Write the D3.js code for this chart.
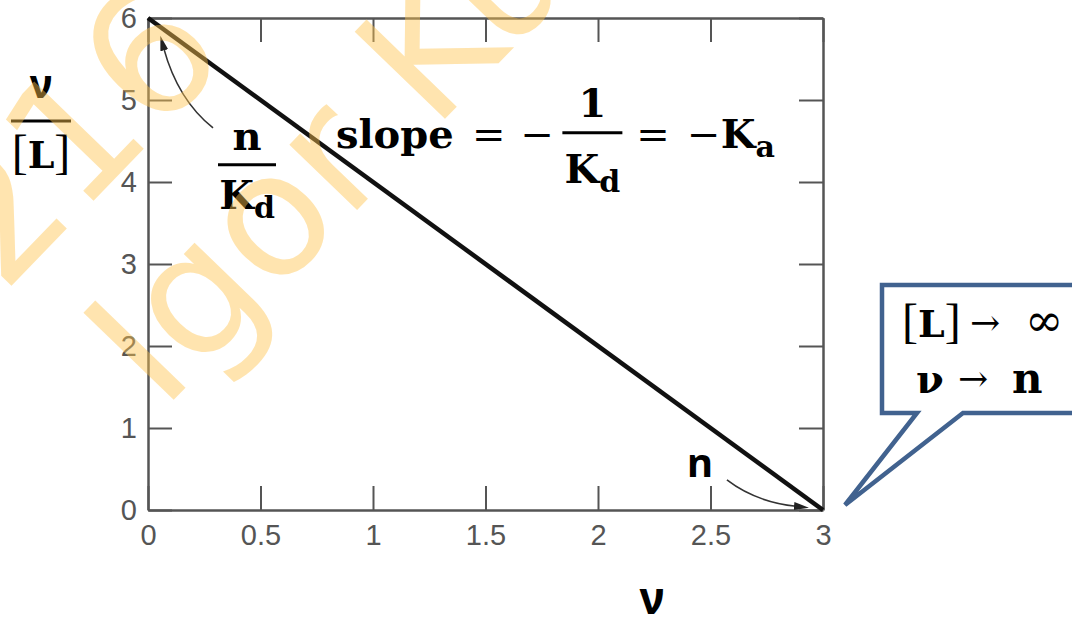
<!DOCTYPE html>
<html>
<head>
<meta charset="utf-8">
<script src="https://cdn.jsdelivr.net/npm/d3@7"></script>
<style>
  html, body { margin: 0; padding: 0; background: #fff; }
  svg { display: block; }
</style>
</head>
<body>
<svg id="chart" width="1072" height="629"></svg>
<script>
// Scatchard plot: ν/[L] against ν for n identical, independent sites
const xTickValues = [0, 0.5, 1, 1.5, 2, 2.5, 3];
const yTickValues = [0, 1, 2, 3, 4, 5, 6];
const nuValues = [0, 3];        // ν
const ratioValues = [6, 0];     // ν/[L]
const nSites = 3;               // x-intercept, n
const interceptRatio = 6;       // y-intercept, n/Kd

const svg = d3.select("#chart");
const x = d3.scaleLinear().domain([0, 3]).range([148, 823]);
const y = d3.scaleLinear().domain([0, 6]).range([510, 18]);

const axisColor = "#555";
const tickFont = "'Liberation Sans', Arial, sans-serif";
const serif = "'DejaVu Serif', serif";
const thinSerif = "'Liberation Serif', 'Times New Roman', serif";
const sans = "'Noto Sans', 'Open Sans', sans-serif";

function styleAxis(g) {
  g.selectAll(".domain").attr("stroke", axisColor).attr("stroke-width", 2.5);
  g.selectAll(".tick line").attr("stroke", axisColor).attr("stroke-width", 2);
  g.selectAll("text")
    .attr("fill", "#555")
    .attr("font-family", tickFont)
    .attr("font-size", 29);
}

// bottom axis with labels, ticks pointing into the plot
svg.append("g")
  .attr("transform", `translate(0,${y(0)})`)
  .call(d3.axisBottom(x).tickValues(xTickValues).tickFormat(d3.format("~g"))
    .tickSizeInner(-24).tickSizeOuter(0).tickPadding(14))
  .call(styleAxis);

// left axis with labels
svg.append("g")
  .attr("transform", `translate(${x(0)},0)`)
  .call(d3.axisLeft(y).tickValues(yTickValues).tickFormat(d3.format("~g"))
    .tickSizeInner(-24).tickSizeOuter(0).tickPadding(11))
  .call(styleAxis);

// top and right frame with ticks only
svg.append("g")
  .attr("transform", `translate(0,${y(6)})`)
  .call(d3.axisTop(x).tickValues(xTickValues).tickFormat("")
    .tickSizeInner(-24).tickSizeOuter(0))
  .call(styleAxis);
svg.append("g")
  .attr("transform", `translate(${x(3)},0)`)
  .call(d3.axisRight(y).tickValues(yTickValues).tickFormat("")
    .tickSizeInner(-24).tickSizeOuter(0))
  .call(styleAxis);

// the straight Scatchard line
svg.append("path")
  .datum(d3.zip(nuValues, ratioValues))
  .attr("d", d3.line().x(d => x(d[0])).y(d => y(d[1])))
  .attr("fill", "none")
  .attr("stroke", "#111")
  .attr("stroke-width", 4.5);

// arrowhead marker
const defs = svg.append("defs");
defs.append("marker")
  .attr("id", "head")
  .attr("markerUnits", "userSpaceOnUse")
  .attr("markerWidth", 16).attr("markerHeight", 10)
  .attr("refX", 2).attr("refY", 4)
  .attr("orient", "auto")
  .append("path")
  .attr("d", "M0,0 L15,4 L0,8 Z")
  .attr("fill", "#222");

function curvedArrow(p0, c, p1) {
  const path = d3.path();
  path.moveTo(x(p0[0]), y(p0[1]));
  path.quadraticCurveTo(x(c[0]), y(c[1]), x(p1[0]), y(p1[1]));
  svg.append("path")
    .attr("d", path.toString())
    .attr("fill", "none")
    .attr("stroke", "#333")
    .attr("stroke-width", 1.6)
    .attr("marker-end", "url(#head)");
}

// arrow pointing at the y-intercept
curvedArrow([0.289, 4.66], [0.133, 5.0], [0.07, 5.63]);
// arrow pointing at the x-intercept
curvedArrow([2.573, 0.366], [2.70, 0.098], [2.88, 0.045]);

// y-axis title: ν / [L]
const yt = svg.append("g");
yt.append("text").attr("x", 41).attr("y", 98).attr("text-anchor", "middle")
  .attr("font-family", sans).attr("font-weight", 700).attr("font-size", 40).text("ν");
yt.append("line").attr("x1", 11).attr("x2", 71).attr("y1", 121).attr("y2", 121)
  .attr("stroke", "#000").attr("stroke-width", 3);
const ytL = yt.append("text").attr("x", 41).attr("y", 168).attr("text-anchor", "middle");
ytL.append("tspan").attr("font-family", thinSerif).attr("font-size", 48).text("[");
ytL.append("tspan").attr("font-family", serif).attr("font-weight", 700).attr("font-size", 38).text("L");
ytL.append("tspan").attr("font-family", thinSerif).attr("font-size", 48).text("]");

// x-axis title: ν
svg.append("text").attr("x", 652).attr("y", 614).attr("text-anchor", "middle")
  .attr("font-family", sans).attr("font-weight", 700).attr("font-size", 44).text("ν");

// serif symbol with a subscript
function subText(g, xPos, yPos, main, sub, anchor) {
  const t = g.append("text").attr("x", xPos).attr("y", yPos)
    .attr("text-anchor", anchor || "start")
    .attr("font-family", serif).attr("font-weight", 700);
  t.append("tspan").attr("font-size", 40).text(main);
  t.append("tspan").attr("font-size", 30).attr("dy", 9).text(sub);
  return t;
}

// n / Kd label near the y-intercept
const ic = svg.append("g");
const icX = x(0.44);
ic.append("text").attr("x", icX).attr("y", y(4.39)).attr("text-anchor", "middle")
  .attr("font-family", serif).attr("font-weight", 700).attr("font-size", 40).text("n");
ic.append("line").attr("x1", icX - 29).attr("x2", icX + 29)
  .attr("y1", y(4.21)).attr("y2", y(4.21)).attr("stroke", "#000").attr("stroke-width", 3);
subText(ic, icX, y(3.67), "K", "d", "middle");

// slope = −1/Kd = −Ka
const sl = svg.append("g");
const base = y(4.41);
sl.append("text").attr("x", x(0.835)).attr("y", base)
  .attr("font-family", serif).attr("font-weight", 700).attr("font-size", 40).text("slope");
sl.append("text").attr("x", x(1.44)).attr("y", base)
  .attr("font-family", serif).attr("font-size", 40).text("=");
sl.append("text").attr("x", x(1.655)).attr("y", base)
  .attr("font-family", serif).attr("font-size", 40).text("−");
const fracX = x(1.975);
sl.append("text").attr("x", fracX).attr("y", y(4.79)).attr("text-anchor", "middle")
  .attr("font-family", serif).attr("font-weight", 700).attr("font-size", 40).text("1");
sl.append("line").attr("x1", fracX - 30).attr("x2", fracX + 30)
  .attr("y1", y(4.6)).attr("y2", y(4.6)).attr("stroke", "#000").attr("stroke-width", 3);
subText(sl, fracX, y(3.99), "K", "d", "middle");
sl.append("text").attr("x", x(2.17)).attr("y", base)
  .attr("font-family", serif).attr("font-size", 40).text("=");
sl.append("text").attr("x", x(2.395)).attr("y", base)
  .attr("font-family", serif).attr("font-size", 40).text("−");
subText(sl, x(2.545), base, "K", "a");

// n label near the x-intercept
svg.append("text").attr("x", x(2.395)).attr("y", y(0.4))
  .attr("font-family", sans).attr("font-weight", 700).attr("font-size", 40).text("n");

// callout: [L] → ∞, ν → n
const tipX = x(nSites) + 22, tipY = y(0) - 5;
const box = { left: tipX + 37, top: tipY - 220, bottom: tipY - 92, right: 1085 };
const callout = d3.path();
callout.moveTo(tipX + 72, box.bottom);
callout.lineTo(box.left, box.bottom);
callout.lineTo(box.left, box.top);
callout.lineTo(box.right, box.top);
callout.lineTo(box.right, box.bottom);
callout.lineTo(tipX + 118, box.bottom);
callout.lineTo(tipX, tipY);
callout.closePath();
svg.append("path").attr("d", callout.toString())
  .attr("fill", "#fff").attr("stroke", "#41628F").attr("stroke-width", 4.5)
  .attr("stroke-linejoin", "miter");

const c1 = tipY - 168, c2 = tipY - 112;
const l1 = svg.append("text").attr("x", box.left + 20).attr("y", c1);
l1.append("tspan").attr("font-family", thinSerif).attr("font-size", 48).text("[");
l1.append("tspan").attr("font-family", serif).attr("font-weight", 700).attr("font-size", 38).text("L");
l1.append("tspan").attr("font-family", thinSerif).attr("font-size", 48).text("]");
svg.append("text").attr("x", box.left + 88).attr("y", c1 - 2)
  .attr("font-family", serif).attr("font-size", 36).text("→");
svg.append("text").attr("x", box.left + 143).attr("y", c1 - 1)
  .attr("font-family", serif).attr("font-size", 46).text("∞");
svg.append("text").attr("x", box.left + 34).attr("y", c2)
  .attr("font-family", serif).attr("font-weight", 700).attr("font-size", 40).text("ν");
svg.append("text").attr("x", box.left + 76).attr("y", c2 - 2)
  .attr("font-family", serif).attr("font-size", 36).text("→");
svg.append("text").attr("x", box.left + 130).attr("y", c2)
  .attr("font-family", serif).attr("font-weight", 700).attr("font-size", 42).text("n");

// translucent diagonal watermark over everything
const wm = svg.append("g")
  .attr("transform", "translate(162,412) rotate(-46)")
  .attr("fill", "#FFC44D").attr("fill-opacity", 0.45)
  .attr("font-family", "'DejaVu Sans', sans-serif").attr("font-size", 172);
wm.append("text").attr("x", 0).attr("y", 0).text("Igor Ku");
wm.append("text").attr("x", 302).attr("y", -196).attr("text-anchor", "end").text("216");
</script>
</body>
</html>
